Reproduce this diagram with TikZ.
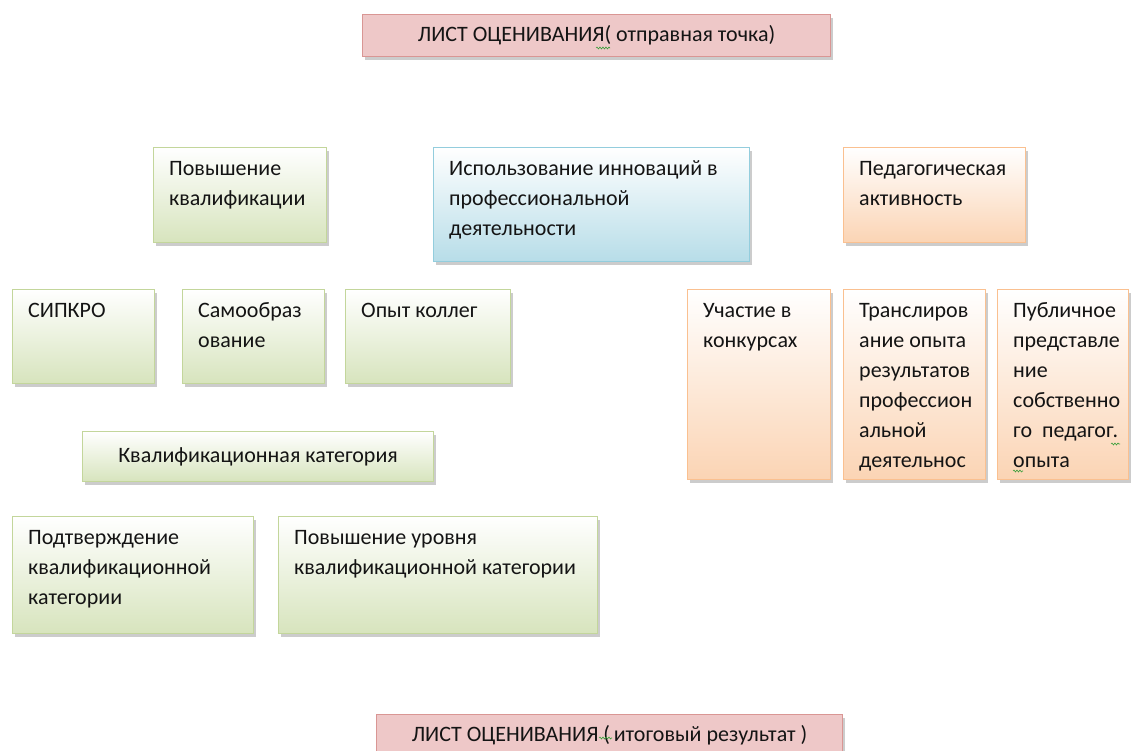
\documentclass[tikz,border=0pt]{standalone}
\usepackage{fontspec}
\setmainfont{Carlito}
\usetikzlibrary{shadows,decorations.pathmorphing}
\definecolor{grnF}{RGB}{215,228,189}
\definecolor{grnB}{RGB}{195,214,155}
\definecolor{bluF}{RGB}{183,221,232}
\definecolor{bluB}{RGB}{147,205,221}
\definecolor{orgF}{RGB}{251,212,180}
\definecolor{orgB}{RGB}{250,192,144}
\definecolor{pnkF}{RGB}{238,200,200}
\definecolor{pnkM}{RGB}{253,242,242}
\definecolor{pnkB}{RGB}{217,150,148}
\definecolor{txtC}{RGB}{20,20,20}
\definecolor{squigC}{RGB}{60,160,60}
\begin{document}
\begin{tikzpicture}[x=1pt,y=-1pt,
  box/.style={draw, line width=1.1pt, inner sep=0pt, anchor=north west,
    drop shadow={shadow xshift=2.5pt, shadow yshift=-3.5pt, fill=black!40, opacity=0.5}},
  gbox/.style={box, draw=grnB, top color=white, bottom color=grnF},
  bbox/.style={box, draw=bluB, top color=white, bottom color=bluF},
  obox/.style={box, draw=orgB, top color=white, bottom color=orgF},
  pbox/.style={box, draw=pnkB, top color=pnkF, middle color=pnkM, bottom color=pnkF},
  txt/.style={anchor=north west, inner sep=0pt, align=left, text=txtC,
    font=\fontsize{22}{30}\selectfont, xshift=16pt, yshift=-10pt},
  ctxt/.style={anchor=center, inner sep=0pt, text=txtC, font=\fontsize{22}{30}\selectfont},
  squig/.style={draw=squigC, line width=0.6pt, decorate,
    decoration={snake, amplitude=1pt, segment length=3pt}}
]
\useasboundingbox (0,0) rectangle (1131,751);

% boxes
\node[pbox, minimum width=468pt, minimum height=42pt] (top) at (362,14) {};
\node[gbox, minimum width=173pt, minimum height=95pt] (pk) at (153,147) {};
\node[bbox, minimum width=316pt, minimum height=114pt] (inn) at (433,147) {};
\node[obox, minimum width=182pt, minimum height=95pt] (ped) at (843,147) {};
\node[gbox, minimum width=142pt, minimum height=94pt] (sip) at (12,289) {};
\node[gbox, minimum width=142pt, minimum height=94pt] (sam) at (182,289) {};
\node[gbox, minimum width=165pt, minimum height=94pt] (opy) at (345,289) {};
\node[obox, minimum width=143pt, minimum height=190pt] (uch) at (687,289) {};
\node[obox, minimum width=142pt, minimum height=190pt] (tra) at (843,289) {};
\node[obox, minimum width=131pt, minimum height=190pt] (pub) at (997,289) {};
\node[gbox, minimum width=351pt, minimum height=50pt] (kat) at (82,431) {};
\node[gbox, minimum width=241pt, minimum height=117pt] (pod) at (12,516) {};
\node[gbox, minimum width=319pt, minimum height=117pt] (pov) at (278,516) {};
\node[pbox, minimum width=466pt, minimum height=42pt] (bot) at (376,714) {};

% texts
\node[ctxt] (topT) at (top.center) {ЛИСТ ОЦЕНИВАНИЯ( отправная точка)};
\node[txt] (pkT) at (pk.north west) {\rule{0pt}{18pt}Повышение\\квалификации};
\node[txt] (innT) at (inn.north west) {\rule{0pt}{18pt}Использование инноваций в\\профессиональной\\деятельности};
\node[txt] (pedT) at (ped.north west) {\rule{0pt}{18pt}Педагогическая\\активность};
\node[txt] (sipT) at (sip.north west) {\rule{0pt}{18pt}СИПКРО};
\node[txt] (samT) at (sam.north west) {\rule{0pt}{18pt}Самообраз\\ование};
\node[txt] (opyT) at (opy.north west) {\rule{0pt}{18pt}Опыт коллег};
\node[txt] (uchT) at (uch.north west) {\rule{0pt}{18pt}Участие в\\конкурсах};
\node[txt] (traT) at (tra.north west) {\rule{0pt}{18pt}Транслиров\\ание опыта\\результатов\\профессион\\альной\\деятельнос};
\node[txt] (pubT) at (pub.north west) {\rule{0pt}{18pt}Публичное\\представле\\ние\\собственно\\го\ \ педагог.\\опыта};
\node[ctxt] (katT) at (kat.center) {Квалификационная категория};
\node[txt] (podT) at (pod.north west) {\rule{0pt}{18pt}Подтверждение\\квалификационной\\категории};
\node[txt] (povT) at (pov.north west) {\rule{0pt}{18pt}Повышение уровня\\квалификационной категории};
\node[ctxt] (botT) at (bot.center) {ЛИСТ ОЦЕНИВАНИЯ (\,итоговый результат )};

% spell-check squiggles
\draw[squig] (596,48) -- (610,48);
\draw[squig] (599,738) -- (612,738);
\draw[squig] (1111,444) -- (1120,444);
\draw[squig] (1013,471) -- (1023,471);
\end{tikzpicture}
\end{document}
